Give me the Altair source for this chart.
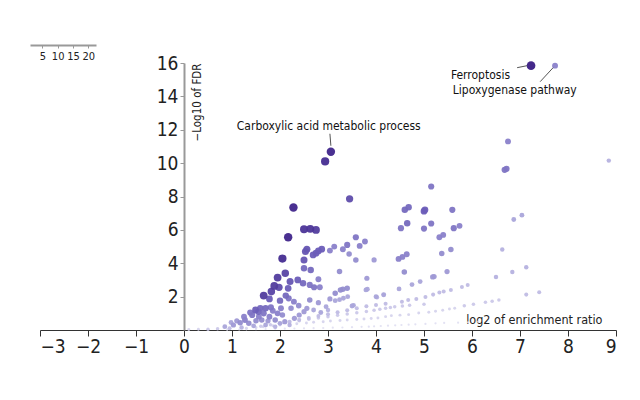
import altair as alt
import pandas as pd

FONT = "'Liberation Sans Narrow', 'DejaVu Sans Condensed', 'Liberation Sans', sans-serif"

# (log2 enrichment ratio, -log10 FDR, overlap size)
annotated_pts = [(7.23, 15.84, 20), (7.73, 15.84, 9), (3.06, 10.68, 19), (2.94, 10.10, 18)]

top_pts = [(6.75, 11.30, 9), (8.85, 10.15, 5), (6.68, 9.60, 10), (6.72, 9.66, 10),
           (3.45, 7.86, 14), (5.15, 8.60, 10), (2.28, 7.34, 19), (2.17, 5.56, 19),
           (2.50, 6.04, 17), (2.63, 6.06, 17), (2.75, 6.00, 16)]

right_pts = [(4.60, 7.20, 11), (4.68, 7.36, 11), (5.00, 7.12, 12), (5.02, 7.20, 12),
             (5.59, 7.20, 10), (4.65, 6.40, 11), (5.15, 6.38, 10), (4.52, 6.10, 10),
             (5.00, 6.08, 10), (5.62, 6.10, 10), (5.74, 6.24, 9), (5.32, 5.56, 9),
             (5.40, 5.70, 9), (6.87, 6.62, 6), (7.04, 6.88, 6), (4.47, 4.26, 9),
             (4.55, 4.38, 9), (4.64, 4.54, 9), (5.37, 4.58, 8), (5.56, 4.82, 8),
             (6.63, 4.82, 5), (4.59, 3.48, 8), (5.48, 3.50, 7), (5.18, 3.18, 7),
             (5.21, 3.20, 7), (4.75, 2.72, 6), (4.92, 2.90, 6), (4.48, 2.46, 6),
             (4.16, 2.12, 6), (4.00, 2.00, 6), (6.50, 3.18, 5), (6.84, 3.48, 5),
             (7.13, 3.76, 5), (7.13, 2.12, 4), (7.40, 2.26, 4)]

mid_pts = [(3.58, 5.56, 10), (3.77, 5.30, 9), (3.40, 5.10, 10), (3.66, 5.04, 9),
           (3.58, 4.20, 8), (3.96, 4.20, 7), (3.04, 4.76, 9), (3.13, 5.00, 9),
           (3.31, 4.84, 9), (3.44, 4.56, 8), (2.87, 4.84, 12), (2.80, 4.74, 12),
           (2.75, 4.60, 12), (2.69, 4.50, 12), (2.56, 4.84, 13), (2.53, 4.70, 13),
           (2.50, 4.20, 13), (2.05, 4.28, 18), (2.50, 3.70, 11), (2.64, 3.60, 11),
           (2.11, 3.40, 15), (1.95, 3.14, 16), (2.37, 3.00, 12), (2.48, 2.80, 11),
           (2.21, 2.90, 13), (2.80, 3.04, 9), (2.62, 2.70, 10), (2.71, 2.56, 10),
           (2.83, 2.56, 9), (1.88, 2.64, 16), (1.82, 2.30, 15), (1.66, 2.06, 16),
           (1.78, 1.86, 12), (1.98, 2.56, 14), (2.17, 2.50, 12), (2.12, 2.06, 11),
           (2.00, 1.76, 11), (2.18, 1.90, 10), (2.29, 1.70, 9), (2.39, 1.46, 8),
           (2.23, 1.30, 8), (2.62, 1.80, 8), (2.56, 1.30, 7), (2.80, 1.64, 7),
           (2.96, 1.40, 6), (3.04, 1.86, 7), (3.15, 2.20, 8), (3.26, 2.40, 8),
           (3.31, 2.44, 8), (3.40, 2.50, 8), (3.24, 3.50, 8), (3.81, 3.10, 7),
           (3.50, 1.44, 6), (3.53, 1.48, 6), (3.15, 1.76, 6), (3.24, 1.82, 6),
           (3.32, 1.90, 6), (3.41, 2.00, 6), (3.79, 2.40, 6), (3.82, 2.44, 6),
           (4.02, 1.96, 5), (4.16, 2.10, 5)]

cluster_pts = [(1.49, 1.20, 12), (1.59, 1.30, 11), (1.70, 1.30, 11), (1.81, 1.36, 10),
               (1.42, 0.90, 10), (1.27, 0.60, 9), (1.17, 0.44, 8), (1.03, 0.30, 7),
               (0.85, 0.20, 6), (1.78, 0.80, 9), (1.95, 1.00, 9), (2.05, 0.90, 8),
               (2.02, 1.30, 9), (1.66, 1.00, 10), (1.56, 0.80, 9), (1.35, 0.40, 8),
               (1.55, 1.10, 11), (1.62, 0.60, 8), (1.90, 0.60, 8), (2.10, 0.50, 7),
               (2.30, 0.70, 7), (2.40, 0.90, 7), (1.45, 0.25, 6), (1.70, 0.30, 6),
               (1.20, 0.15, 5), (0.95, 0.10, 4), (0.70, 0.08, 3), (0.50, 0.05, 3),
               (0.30, 0.05, 2), (0.10, 0.03, 2), (1.90, 0.20, 5), (2.20, 0.30, 5),
               (1.25, 0.80, 9), (1.10, 0.55, 7), (0.98, 0.45, 6), (1.85, 1.15, 9),
               (1.38, 1.05, 10), (1.50, 0.55, 8), (1.75, 0.55, 7), (2.00, 0.40, 6),
               (2.50, 1.10, 7), (2.70, 1.20, 6), (2.85, 1.05, 6), (3.00, 1.20, 5)]

ray1_pts = [(0.90, 0.02, 1), (1.15, 0.03, 1), (1.30, 0.04, 1), (1.50, 0.05, 1),
            (1.70, 0.06, 1), (1.90, 0.07, 1), (2.10, 0.08, 1), (2.30, 0.09, 1),
            (2.50, 0.10, 1), (2.70, 0.11, 1), (2.90, 0.12, 1), (3.10, 0.14, 1),
            (3.30, 0.15, 1), (3.50, 0.17, 1), (3.70, 0.19, 1), (3.85, 0.20, 1),
            (3.96, 0.22, 1), (4.10, 0.24, 1), (4.25, 0.26, 1), (4.40, 0.28, 1),
            (4.53, 0.30, 1), (4.68, 0.32, 1), (4.82, 0.34, 1), (5.03, 0.36, 1),
            (5.24, 0.40, 1), (5.42, 0.42, 1), (5.71, 0.44, 1), (5.92, 0.46, 1),
            (6.13, 0.50, 1)]

ray2_pts = [(1.30, 0.10, 2), (1.50, 0.15, 2), (1.65, 0.20, 2), (1.85, 0.25, 2),
            (2.00, 0.30, 2), (2.20, 0.34, 2), (2.35, 0.38, 2), (2.55, 0.42, 2),
            (2.70, 0.46, 2), (2.90, 0.50, 2), (3.05, 0.54, 2), (3.25, 0.57, 2),
            (3.40, 0.60, 2), (3.60, 0.63, 2), (3.75, 0.66, 2), (3.90, 0.69, 2),
            (4.04, 0.72, 2), (4.20, 0.80, 2), (4.32, 0.86, 2), (4.50, 0.89, 2),
            (4.68, 0.92, 2), (4.89, 1.02, 2), (5.10, 1.06, 2), (5.24, 1.12, 2),
            (5.39, 1.18, 2), (5.53, 1.26, 2), (5.64, 1.30, 2)]

ray3_pts = [(1.60, 0.22, 3), (1.80, 0.31, 3), (2.00, 0.40, 3), (2.20, 0.48, 3),
            (2.40, 0.56, 3), (2.60, 0.64, 3), (2.80, 0.72, 3), (3.00, 0.80, 3),
            (3.20, 0.88, 3), (3.40, 0.96, 3), (3.60, 1.04, 3), (3.80, 1.11, 3),
            (3.96, 1.18, 3), (4.08, 1.24, 3), (4.20, 1.30, 3), (4.30, 1.35, 3),
            (4.39, 1.40, 3), (4.55, 1.44, 3), (4.70, 1.48, 3), (5.00, 1.54, 3),
            (5.84, 1.46, 3), (6.03, 1.54, 3), (6.28, 1.66, 3), (6.42, 1.72, 3),
            (6.56, 1.80, 3)]

ray4_pts = [(2.20, 0.50, 4), (2.40, 0.61, 4), (2.60, 0.72, 4), (2.80, 0.84, 4),
            (3.00, 0.95, 4), (3.20, 1.06, 4), (3.40, 1.18, 4), (3.60, 1.30, 4),
            (3.80, 1.42, 4), (4.00, 1.50, 4), (4.20, 1.58, 4), (4.54, 1.70, 4),
            (4.67, 1.80, 4), (4.84, 1.86, 4), (5.03, 1.98, 4), (5.19, 2.12, 4),
            (5.32, 2.24, 4), (5.41, 2.30, 4), (5.56, 2.40, 4), (5.79, 2.58, 4),
            (5.91, 2.70, 4)]

groups = [annotated_pts, top_pts, right_pts, mid_pts, cluster_pts,
          ray1_pts, ray2_pts, ray3_pts, ray4_pts]
rows = [{"x": p[0], "y": p[1], "n": p[2]} for g in groups for p in g]
points = pd.DataFrame(rows)

# annotations: label, label anchor (left), leader line start/end
ann_labels = ["Carboxylic acid metabolic process", "Ferroptosis", "Lipoxygenase pathway"]
ann_tx = [1.10, 5.56, 5.60]
ann_ty = [12.24, 15.30, 14.40]
ann_lx1 = [3.04, 6.94, 7.42]
ann_ly1 = [11.76, 15.72, 14.88]
ann_lx2 = [3.06, 7.15, 7.69]
ann_ly2 = [11.04, 15.84, 15.72]
ann_text = pd.DataFrame({"label": ann_labels, "x": ann_tx, "y": ann_ty})
ann_lines = pd.DataFrame({"x": ann_lx1, "y": ann_ly1, "x2": ann_lx2, "y2": ann_ly2})

legend_ticks = [5, 10, 15, 20]
legend_df = pd.DataFrame({"v": legend_ticks})

x_ticks = list(range(-3, 10))
y_ticks = [2, 4, 6, 8, 10, 12, 14, 16]

UNIT = 48.0
W = 12 * UNIT
H = 267

xs = alt.Scale(domain=[-3, 9], nice=False, zero=False)
ys = alt.Scale(domain=[0, 16], nice=False)

x_axis = alt.Axis(values=x_ticks, title="log2 of enrichment ratio",
                  grid=False, domainColor="#333", tickColor="#333",
                  tickSize=6, labelFontSize=19, labelFont=FONT,
                  labelColor="#222", labelPadding=1, labelOverlap=False,
                  titleFont=FONT, titleFontSize=12.5, titleFontWeight="normal",
                  titleColor="#222", titleX=W - 14, titleY=-4,
                  titleAlign="right", titleBaseline="bottom")
y_axis = alt.Axis(values=y_ticks, title="\u2212Log10 of FDR", grid=False,
                  offset=-3 * UNIT, domainColor="#999", domainWidth=2,
                  tickColor="#999", tickSize=4, labelFontSize=19,
                  labelFont=FONT, labelColor="#222", labelPadding=2,
                  labelOverlap=False,
                  titleFont=FONT, titleFontSize=11.5, titleFontWeight="normal",
                  titleColor="#222", titleAngle=270, titleX=7, titleY=0,
                  titleAlign="right", titleBaseline="top")

size_scale = alt.Scale(domain=[1, 20], range=[5, 75])
color_scale = alt.Scale(domain=[1, 6, 12, 20],
                        range=["#e1e0f2", "#aaa5da", "#6b5db8", "#3a1c84"])

scatter = alt.Chart(points).mark_circle(opacity=0.95).encode(
    x=alt.X("x:Q", scale=xs, axis=x_axis),
    y=alt.Y("y:Q", scale=ys, axis=y_axis),
    size=alt.Size("n:Q", scale=size_scale, legend=None),
    color=alt.Color("n:Q", scale=color_scale, legend=None),
    order=alt.Order("n:Q", sort="ascending"),
)

leaders = alt.Chart(ann_lines).mark_rule(color="#555", strokeWidth=1).encode(
    x=alt.X("x:Q", scale=xs, axis=x_axis), y=alt.Y("y:Q", scale=ys, axis=y_axis),
    x2="x2:Q", y2="y2:Q",
)

labels = alt.Chart(ann_text).mark_text(align="left", baseline="middle", font=FONT,
                                       fontSize=12, color="#111").encode(
    x=alt.X("x:Q", scale=xs, axis=x_axis), y=alt.Y("y:Q", scale=ys, axis=y_axis),
    text="label:N",
)

legend_axis = alt.Chart(legend_df).mark_point(opacity=0).encode(
    x=alt.X("v:Q", scale=alt.Scale(domain=[1, 22.5], range=[-10, 56], nice=False, zero=False),
            axis=alt.Axis(values=legend_ticks, orient="bottom", offset=-(H + 18), title=None,
                          grid=False, domainColor="#999", domainWidth=2, tickColor="#999",
                          tickSize=3, labelFontSize=11, labelFont=FONT, labelColor="#222",
                          labelPadding=2, labelOverlap=False)),
    y=alt.value(0),
)

main = alt.layer(scatter, leaders, labels)

chart = alt.layer(main, legend_axis).resolve_scale(
    x="independent"
).properties(
    width=W, height=H,
    padding={"left": 32, "top": 55, "right": 16, "bottom": 50},
    autosize=alt.AutoSizeParams(type="none"),
).configure_view(stroke=None)

chart.save("out.html", embed_options={"renderer": "svg", "actions": False})
